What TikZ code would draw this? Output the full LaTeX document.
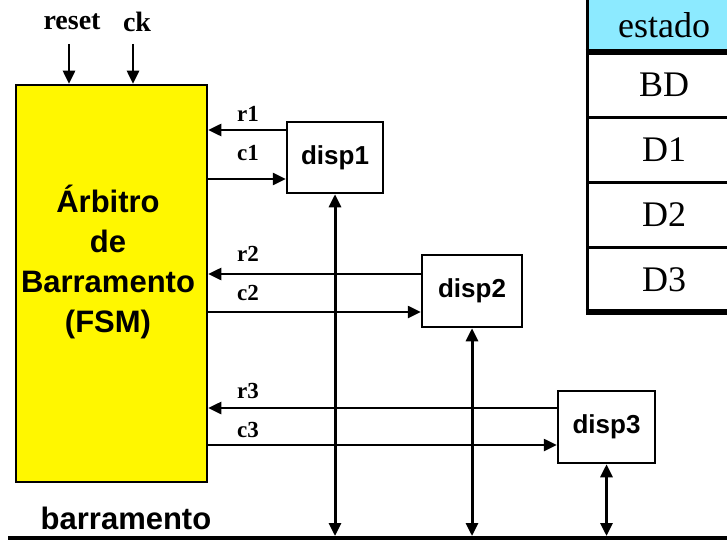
\documentclass[tikz,border=0pt]{standalone}
\usepackage{fontspec}
\setmainfont{Liberation Serif}
\setsansfont{Liberation Sans}
\usetikzlibrary{arrows.meta}
\definecolor{fsmyellow}{RGB}{255,247,0}
\definecolor{headcyan}{RGB}{140,234,255}
\begin{document}
\begin{tikzpicture}[x=1pt,y=-1pt,
  box/.style={draw, line width=2.5pt, inner sep=0pt, fill=white,
    font=\sffamily\bfseries\fontsize{26}{30}\selectfont},
  tip/.style={Triangle[length=13pt,width=12pt]},
  sig/.style={line width=2.5pt, -{Triangle[length=13pt,width=12pt]}},
  busarrow/.style={line width=3pt, {Triangle[length=13pt,width=12pt]}-{Triangle[length=13pt,width=12pt]}},
  lbl/.style={font=\bfseries\fontsize{23}{23}\selectfont, inner sep=0pt},
  toplbl/.style={font=\bfseries\fontsize{28}{28}\selectfont, inner sep=0pt},
  cell/.style={font=\fontsize{36}{36}\selectfont, inner sep=0pt},
  thinrule/.style={line width=3pt},
  thickrule/.style={line width=5.5pt},
]
\useasboundingbox (0,0) rectangle (727,540);

% state table (runs past the right edge)
\fill[headcyan] (587,0) rectangle (745,52);
\draw[thinrule] (587,0) -- (587,313);
\draw[thickrule] (585.5,52) -- (745,52);
\draw[thinrule] (587,118) -- (745,118);
\draw[thinrule] (587,182) -- (745,182);
\draw[thinrule] (587,247) -- (745,247);
\draw[thickrule] (585.5,312) -- (745,312);
\node[cell] (hdr) at (664,25) {estado};
\node[cell] (sBD) at (664,85) {BD};
\node[cell] (sD1) at (664,150) {D1};
\node[cell] (sD2) at (664,215) {D2};
\node[cell] (sD3) at (664,280) {D3};

% arbiter FSM
\node[box, fill=fsmyellow, minimum width=191pt, minimum height=397pt] (fsm) at (111.5,283.5) {};
\node[align=center, inner sep=0pt, font=\sffamily\bfseries\fontsize{31}{40}\selectfont]
  (fsmlabel) at (108,262) {Árbitro\\de\\Barramento\\(FSM)};

% inputs
\node[toplbl] (reset) at (72,22) {reset};
\node[toplbl] (ck) at (137,22) {ck};
\coordinate (rs) at (69,44);
\coordinate (ckin) at (133,44);
\draw[sig] (rs) -- (rs |- fsm.north);
\draw[sig] (ckin) -- (ckin |- fsm.north);

% devices
\node[box, minimum width=96pt, minimum height=71pt] (d1) at (335,157.5) {disp1};
\node[box, minimum width=100pt, minimum height=72pt] (d2) at (472,291) {disp2};
\node[box, minimum width=97pt, minimum height=72pt] (d3) at (606.5,427) {disp3};

% request / grant lines
\draw[sig] (d1.west |- 0,130) -- (fsm.east |- 0,130);
\draw[sig] (fsm.east |- 0,179) -- (d1.west |- 0,179);
\draw[sig] (d2.west |- 0,274) -- (fsm.east |- 0,274);
\draw[sig] (fsm.east |- 0,312) -- (d2.west |- 0,312);
\draw[sig] (d3.west |- 0,408) -- (fsm.east |- 0,408);
\draw[sig] (fsm.east |- 0,445) -- (d3.west |- 0,445);
\node[lbl] (r1) at (248,114) {r1};
\node[lbl] (c1) at (248,153) {c1};
\node[lbl] (r2) at (248,254) {r2};
\node[lbl] (c2) at (248,293) {c2};
\node[lbl] (r3) at (248,391) {r3};
\node[lbl] (c3) at (248,430) {c3};

% shared bus
\coordinate (busL) at (8,538);
\coordinate (busR) at (727,538);
\draw[line width=4pt] (busL) -- (busR);
\draw[busarrow] (d1.south) -- (d1.south |- 0,536);
\draw[busarrow] (d2.south) -- (d2.south |- 0,536);
\draw[busarrow] (d3.south) -- (d3.south |- 0,536);
\node[inner sep=0pt, font=\sffamily\bfseries\fontsize{31}{31}\selectfont] (barr) at (126,518) {barramento};
\end{tikzpicture}
\end{document}
